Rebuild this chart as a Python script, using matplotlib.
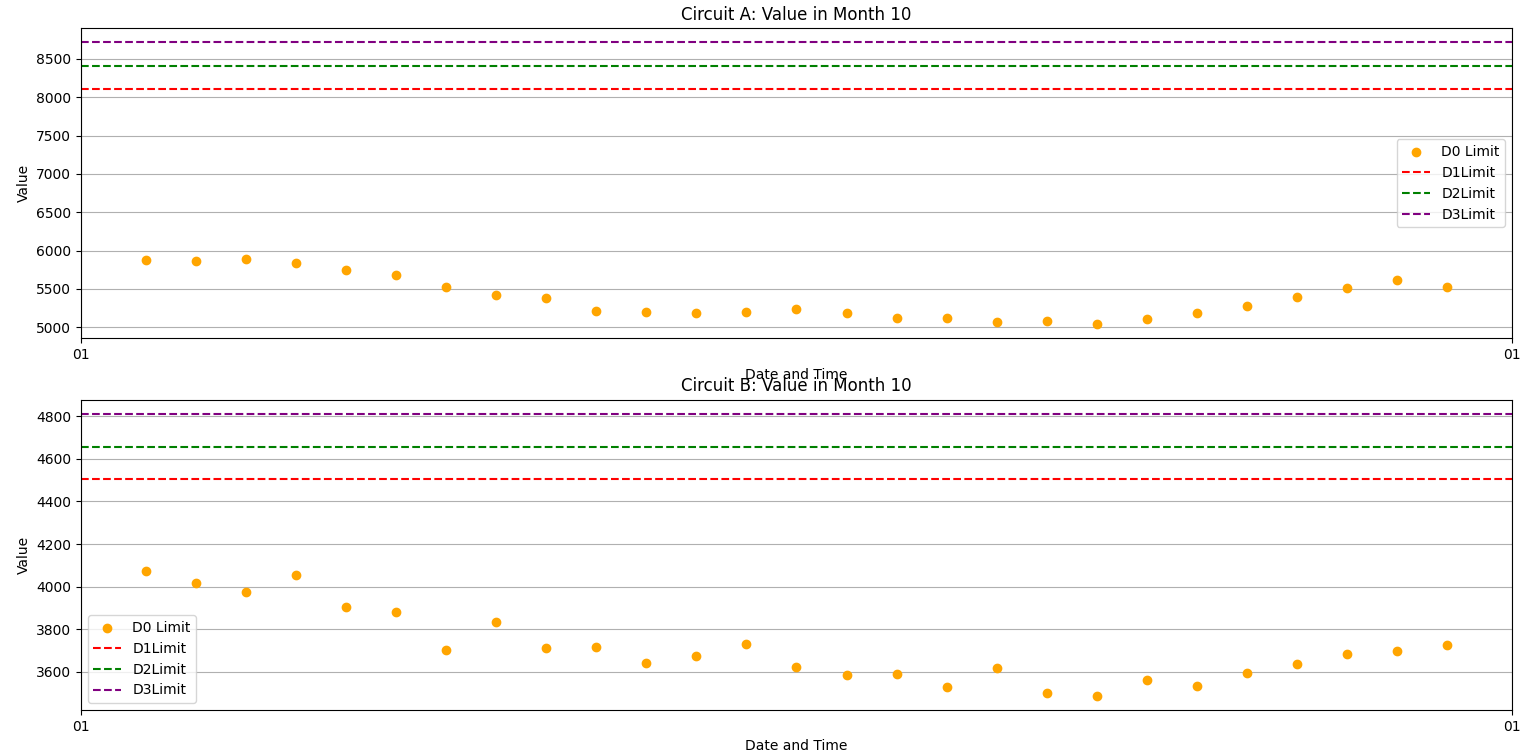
import matplotlib
matplotlib.use("Agg")
import matplotlib.pyplot as plt
import matplotlib.dates as mdates
import pandas as pd

times = pd.to_datetime([
    "2023-10-02 10:00", "2023-10-03 12:00", "2023-10-04 14:00", "2023-10-05 16:00",
    "2023-10-06 18:00", "2023-10-07 20:00", "2023-10-08 22:00", "2023-10-10 00:00",
    "2023-10-11 02:00", "2023-10-12 04:00", "2023-10-13 06:00", "2023-10-14 08:00",
    "2023-10-15 10:00", "2023-10-16 12:00", "2023-10-17 14:00", "2023-10-18 16:00",
    "2023-10-19 18:00", "2023-10-20 20:00", "2023-10-21 22:00", "2023-10-23 00:00",
    "2023-10-24 02:00", "2023-10-25 04:00", "2023-10-26 06:00", "2023-10-27 08:00",
    "2023-10-28 10:00", "2023-10-29 12:00", "2023-10-30 14:00",
])

values_a = [5873, 5860, 5885, 5834, 5742, 5678, 5522, 5418, 5378, 5209, 5196, 5183,
            5196, 5235, 5183, 5118, 5118, 5065, 5078, 5040, 5104, 5183, 5274, 5392,
            5509, 5614, 5522]
limits_a = [8110, 8410, 8720]

values_b = [4076, 4016, 3974, 4053, 3903, 3880, 3703, 3834, 3712, 3717, 3642, 3675,
            3731, 3623, 3586, 3591, 3530, 3619, 3502, 3488, 3563, 3535, 3595, 3637,
            3684, 3698, 3726]
limits_b = [4507, 4656, 4812]

limit_colors = ["red", "green", "purple"]
limit_labels = ["D1Limit", "D2Limit", "D3Limit"]

x_start = pd.Timestamp("2023-10-01")
x_end = pd.Timestamp("2023-11-01")

fig, axes = plt.subplots(2, 1, figsize=(15.36, 7.54), dpi=100)
plt.subplots_adjust(left=0.0527, right=0.9844, top=0.963, bottom=0.0584, hspace=0.197)

panels = [
    (axes[0], "Circuit A", values_a, limits_a, "center right"),
    (axes[1], "Circuit B", values_b, limits_b, "lower left"),
]
for ax, name, vals, lims, loc in panels:
    ax.scatter(times, vals, color="orange", label="D0 Limit", zorder=3)
    for lim, c, lab in zip(lims, limit_colors, limit_labels):
        ax.axhline(lim, color=c, linestyle="--", label=lab)
    ax.set_xlim(x_start, x_end)
    ax.xaxis.set_major_locator(mdates.MonthLocator())
    ax.xaxis.set_major_formatter(mdates.DateFormatter("%d"))
    ax.set_title(f"{name}: Value in Month 10")
    ax.set_xlabel("Date and Time")
    ax.set_ylabel("Value")
    ax.grid(True)
    ax.legend(loc=loc)

fig.savefig("out.png", dpi=100)
